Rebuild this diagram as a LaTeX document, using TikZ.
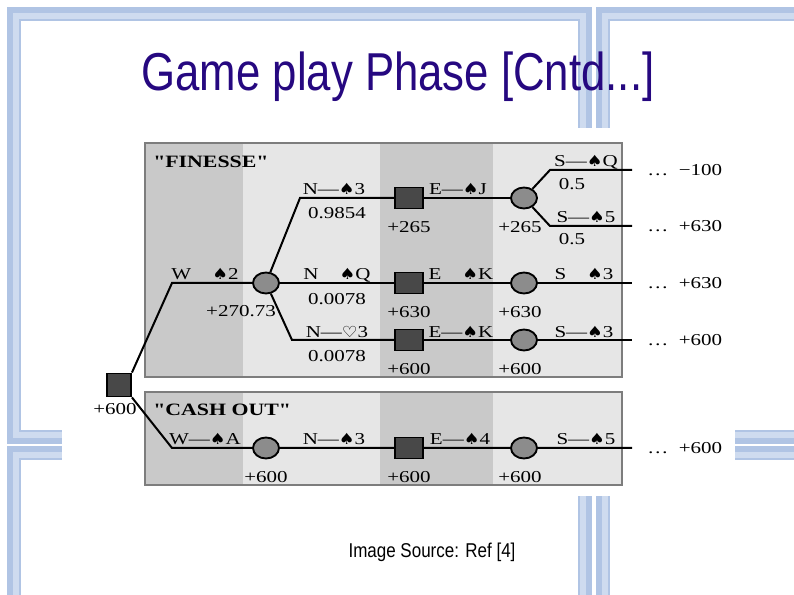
\documentclass[tikz,border=0pt]{standalone}
\usepackage{fontspec}
\usepackage{xcolor}
\usetikzlibrary{shapes.geometric, positioning}
\newfontfamily\treefont[FakeStretch=1.26]{Liberation Serif}
\newfontfamily\suitfont[FakeStretch=1.15]{DejaVu Sans}
\newfontfamily\titlefont[FakeStretch=0.82]{Liberation Sans}
\newfontfamily\notefont[FakeStretch=0.85]{Liberation Sans}
\newcommand{\spd}{{\suitfont\fontsize{11.5}{12}\selectfont ♠}}
\newcommand{\hrt}{{\suitfont\fontsize{11.5}{12}\selectfont ♡}}
\definecolor{titleblue}{RGB}{38,8,128}
\definecolor{framecolor}{RGB}{176,196,228}
\definecolor{framelight}{RGB}{206,219,239}
\definecolor{banddark}{RGB}{201,201,201}
\definecolor{bandlight}{RGB}{230,230,230}
\definecolor{panelborder}{RGB}{125,125,125}
\definecolor{decfill}{RGB}{72,72,72}
\definecolor{chancefill}{RGB}{140,140,140}
\tikzset{
    dec/.style={rectangle, draw, line width=1.4pt, fill=decfill, minimum width=21pt, minimum height=15.75pt, inner sep=0pt},
    chance/.style={ellipse, draw, line width=1.4pt, fill=chancefill, minimum width=19.5pt, minimum height=15.75pt, inner sep=0pt},
    branch/.style={line width=1.5pt},
    lbl/.style={font=\treefont\fontsize{12.5}{14}\selectfont, inner sep=0pt},
    heading/.style={font=\treefont\bfseries\fontsize{13}{15}\selectfont, inner sep=0pt},
    panel/.style={draw=panelborder, line width=1.3pt},
    framebar/.style={draw=framecolor, line width=11pt},
    framestripe/.style={draw=framelight, line width=4pt}
}

\begin{document}
\begin{tikzpicture}[x=0.75pt, y=-0.75pt]
    \useasboundingbox (0,0) rectangle (794,595);
    \fill[white] (0,0) rectangle (794,595);

    \begin{scope}
        \clip (0,0) rectangle (794,595);
        \foreach \xa/\ya/\xb/\yb in {14/14/585/437, 603/14/820/437, 14/453/585/620, 603/453/820/620}{
            \draw[framebar] (\xa,\ya) rectangle (\xb,\yb);
            \draw[framestripe] ({\xa+2},{\ya+2}) rectangle ({\xb-2},{\yb-2});
        }
    \end{scope}
    \fill[white] (62,128) rectangle (735,496);

    \node[font=\titlefont\fontsize{40}{44}\selectfont, text=titleblue] (title) at (398,77) {Game play Phase [Cntd...]};
    \node[font=\notefont\fontsize{15}{17}\selectfont] (source) at (432,552) {Image Source: Ref [4]};

    \foreach \ta/\tb in {143/377, 392/485}{
        \fill[banddark] (145,\ta) rectangle (243,\tb);
        \fill[bandlight] (243,\ta) rectangle (380,\tb);
        \fill[banddark] (380,\ta) rectangle (493,\tb);
        \fill[bandlight] (493,\ta) rectangle (622,\tb);
        \draw[panel] (145,\ta) rectangle (622,\tb);
    }

    \node[heading, anchor=base west] (finesse) at (153,168) {"FINESSE"};
    \node[heading, anchor=base west] (cashout) at (153,416) {"CASH OUT"};

    \node[dec, minimum width=18pt, minimum height=17.25pt] (root) at (119,385) {};
    \node[chance] (w1) at (266,283) {};
    \node[dec] (n1) at (409,198) {};
    \node[dec] (n2) at (409,283) {};
    \node[dec] (n3) at (409,340) {};
    \node[chance] (e1) at (524,198) {};
    \node[chance] (e2) at (524,283) {};
    \node[chance] (e3) at (524,340) {};
    \node[chance] (cw) at (266,448) {};
    \node[dec] (cn) at (409,448) {};
    \node[chance] (ce) at (524,448) {};

    \coordinate (wbend) at (172,283);
    \coordinate (nbend1) at (300,198);
    \coordinate (nbend3) at (292,340);
    \coordinate (sbend1) at (550,170);
    \coordinate (sbend2) at (550,226);
    \coordinate (end1) at (632,170);
    \coordinate (end2) at (632,226);
    \coordinate (end3) at (632,283);
    \coordinate (end4) at (632,340);
    \coordinate (cbend) at (172,448);
    \coordinate (cend) at (632,448);

    \draw[branch] (root.north east) -- (wbend) -- (w1);
    \draw[branch] (w1) -- (nbend1) -- (n1);
    \draw[branch] (w1) -- (n2);
    \draw[branch] (w1) -- (nbend3) -- (n3);
    \draw[branch] (n1) -- (e1);
    \draw[branch] (n2) -- (e2);
    \draw[branch] (n3) -- (e3);
    \draw[branch] (e1) -- (sbend1) -- (end1);
    \draw[branch] (e1) -- (sbend2) -- (end2);
    \draw[branch] (e2) -- (end3);
    \draw[branch] (e3) -- (end4);
    \draw[branch] (root.south east) -- (cbend) -- (cw) -- (cn) -- (ce) -- (cend);

    \node[lbl, anchor=base east] (rootval) at (137,415) {+600};
    \node[lbl, anchor=base] at (205,280) {W\phantom{—}\spd2};
    \node[lbl, anchor=base] at (241,317) {+270.73};

    \node[lbl, anchor=base] at (334,195) {N—\spd3};
    \node[lbl, anchor=base] at (337,219) {0.9854};
    \node[lbl, anchor=base] at (337,280) {N\phantom{—}\spd Q};
    \node[lbl, anchor=base] at (337,305) {0.0078};
    \node[lbl, anchor=base] at (337,338) {N—\hrt3};
    \node[lbl, anchor=base] at (337,362) {0.0078};

    \node[lbl, below=9pt of n1] {+265};
    \node[lbl, below=9pt of n2] {+630};
    \node[lbl, below=9pt of n3] {+600};
    \node[lbl, below=9pt of e1, xshift=-3pt] {+265};
    \node[lbl, below=9pt of e2, xshift=-3pt] {+630};
    \node[lbl, below=9pt of e3, xshift=-3pt] {+600};

    \node[lbl, anchor=base] at (458,195) {E—\spd J};
    \node[lbl, anchor=base] at (461,280) {E\phantom{—}\spd K};
    \node[lbl, anchor=base] at (461,338) {E—\spd K};

    \node[lbl, anchor=base] at (586,167) {S—\spd Q};
    \node[lbl, anchor=base] at (572,190) {0.5};
    \node[lbl, anchor=base] at (586,223) {S—\spd5};
    \node[lbl, anchor=base] at (572,245) {0.5};
    \node[lbl, anchor=base] at (584,280) {S\phantom{—}\spd3};
    \node[lbl, anchor=base] at (584,338) {S—\spd3};

    \node[lbl, anchor=west] at (647,170) {…\ \ −100};
    \node[lbl, anchor=west] at (647,226) {…\ \ +630};
    \node[lbl, anchor=west] at (647,283) {…\ \ +630};
    \node[lbl, anchor=west] at (647,340) {…\ \ +600};

    \node[lbl, anchor=base] at (205,445) {W—\spd A};
    \node[lbl, anchor=base] at (334,445) {N—\spd3};
    \node[lbl, anchor=base] at (460,445) {E—\spd4};
    \node[lbl, anchor=base] at (586,445) {S—\spd5};
    \node[lbl, anchor=west] at (647,448) {…\ \ +600};
    \node[lbl, below=9pt of cw] {+600};
    \node[lbl, below=9pt of cn] {+600};
    \node[lbl, below=9pt of ce, xshift=-3pt] {+600};
\end{tikzpicture}
\end{document}
